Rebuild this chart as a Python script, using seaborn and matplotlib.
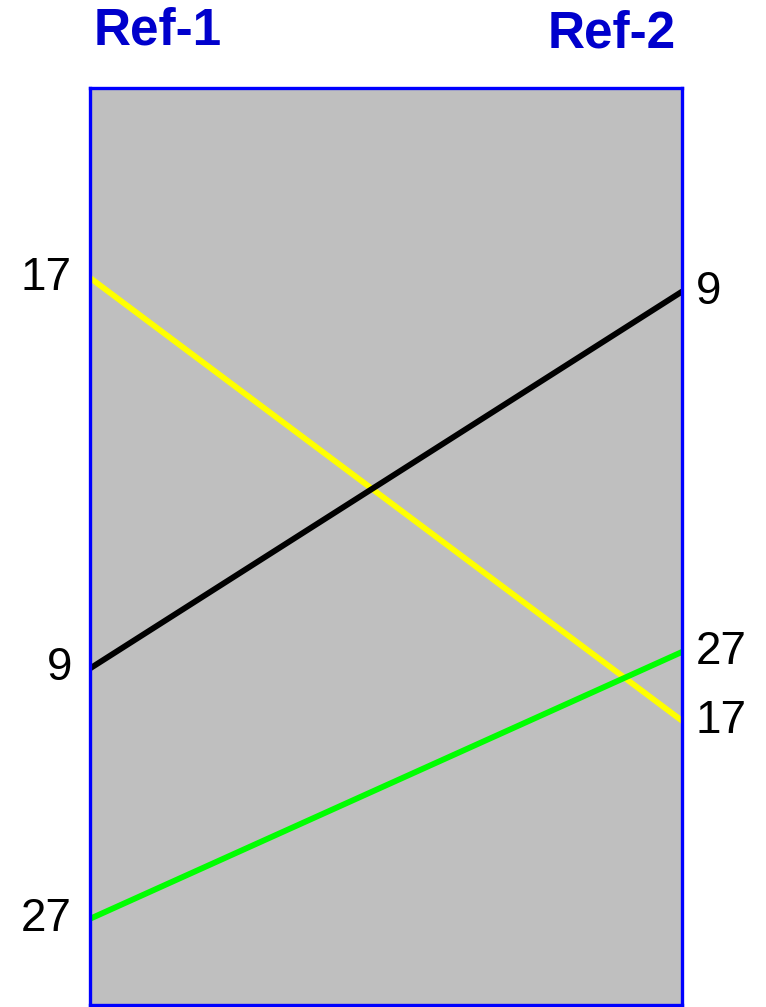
import numpy as np
import pandas as pd
import matplotlib
matplotlib.use('Agg')
import matplotlib.pyplot as plt
import seaborn as sns

# sequences and their positions (0 = top of the panel, 100 = bottom)
seq_ids = ["17", "9", "27"]
pos_ref1 = [20.7, 63.3, 90.6]
pos_ref2 = [69.0, 22.2, 61.5]
refs = ["Ref-1", "Ref-2"]
line_colors = ["#FFFF00", "#000000", "#00FF00"]

rows = []
for sid, p1, p2 in zip(seq_ids, pos_ref1, pos_ref2):
    rows.append({"seq": sid, "ref": 0, "pos": p1})
    rows.append({"seq": sid, "ref": 1, "pos": p2})
df = pd.DataFrame(rows)

sns.set_style("white")
plt.rcParams['font.family'] = ['Liberation Sans', 'DejaVu Sans']

fig = plt.figure(figsize=(7.66, 10.07), dpi=100)
ax = fig.add_axes([90 / 766, 1 - 1005 / 1007, (682 - 90) / 766, (1005 - 88) / 1007])
ax.set_facecolor("#BFBFBF")

sns.lineplot(data=df, x="ref", y="pos", hue="seq", hue_order=seq_ids,
             palette=line_colors, linewidth=4.2, legend=False, ax=ax,
             estimator=None, sort=False)

ax.set_xlim(0, 1)
ax.set_ylim(100, 0)
ax.set_xticks([])
ax.set_yticks([])
ax.set_xlabel("")
ax.set_ylabel("")
for sp in ax.spines.values():
    sp.set_color("#0000FF")
    sp.set_linewidth(2.4)
    sp.set_visible(True)

for sid, p1, p2 in zip(seq_ids, pos_ref1, pos_ref2):
    ax.annotate(sid, (0, p1), xytext=(-13, 0), textcoords="offset points",
                ha="right", va="center", fontsize=33, color="black",
                annotation_clip=False)
    ax.annotate(sid, (1, p2), xytext=(10, 0), textcoords="offset points",
                ha="left", va="center", fontsize=33, color="black",
                annotation_clip=False)

fig.text(158 / 766, 1 - 31 / 1007, refs[0], ha="center", va="center",
         fontsize=37, fontweight="bold", color="#0000CC")
fig.text(612 / 766, 1 - 34 / 1007, refs[1], ha="center", va="center",
         fontsize=37, fontweight="bold", color="#0000CC")

fig.savefig("out.png", dpi=100)
